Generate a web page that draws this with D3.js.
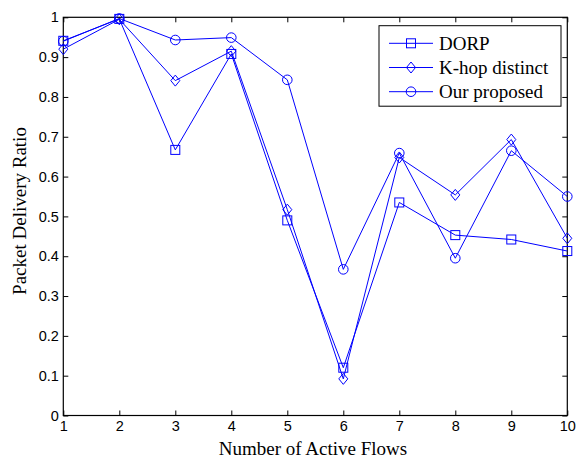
<!DOCTYPE html>
<html><head><meta charset="utf-8">
<script src="https://cdn.jsdelivr.net/npm/d3@7"></script>
<style>body{margin:0;background:#fff}svg{display:block}</style>
</head><body>
<svg id="c" width="576" height="459"></svg>
<script>
const flows = [1,2,3,4,5,6,7,8,9,10];
const dorp = [0.941,0.996,0.667,0.908,0.490,0.120,0.535,0.453,0.442,0.413];
const khop = [0.920,0.995,0.841,0.915,0.517,0.092,0.648,0.554,0.693,0.445];
const ours = [0.940,0.997,0.943,0.949,0.843,0.367,0.659,0.395,0.665,0.550];
const seriesNames = ["DORP","K-hop distinct","Our proposed"];
const markers = ["square","diamond","circle"];
const yTicks = [0,0.1,0.2,0.3,0.4,0.5,0.6,0.7,0.8,0.9,1];
const xLabel = "Number of Active Flows";
const yLabel = "Packet Delivery Ratio";

const svg = d3.select("#c");
const L=63.3, R=567.3, T=17.3, B=415.5;
const x = d3.scaleLinear().domain([1,10]).range([L,R]);
const y = d3.scaleLinear().domain([0,1]).range([B,T]);
const col = "#0000ff";
const tickFont = "'Liberation Sans', Arial, sans-serif";
const serif = "'Liberation Serif', 'Times New Roman', serif";

// axes
const gx = svg.append("g").attr("transform",`translate(0,${B})`)
  .call(d3.axisBottom(x).tickValues(flows).tickSize(-5).tickPadding(5).tickFormat(d3.format("d")));
const gxt = svg.append("g").attr("transform",`translate(0,${T})`)
  .call(d3.axisTop(x).tickValues(flows).tickSize(-5).tickFormat(""));
const gy = svg.append("g").attr("transform",`translate(${L},0)`)
  .call(d3.axisLeft(y).tickValues(yTicks).tickSize(-5).tickPadding(4.5).tickFormat(d=>d===0?"0":d===1?"1":d3.format(".1f")(d)));
const gyr = svg.append("g").attr("transform",`translate(${R},0)`)
  .call(d3.axisRight(y).tickValues(yTicks).tickSize(-5).tickFormat(""));
[gx,gxt,gy,gyr].forEach(g=>{
  g.select(".domain").remove();
  g.selectAll("line").attr("stroke","#000").attr("stroke-width",1);
  g.selectAll("text").attr("font-family",tickFont).attr("font-size",14.5).attr("fill","#000");
});
gx.selectAll("text").attr("dy","0.71em");
svg.append("rect").attr("x",L).attr("y",T).attr("width",R-L).attr("height",B-T)
  .attr("fill","none").attr("stroke","#000").attr("stroke-width",1.2);

// labels
svg.append("text").attr("x",313).attr("y",454.5).attr("text-anchor","middle")
  .attr("font-family",serif).attr("font-size",19).text(xLabel);
svg.append("text").attr("transform",`translate(26,211) rotate(-90)`).attr("text-anchor","middle")
  .attr("font-family",serif).attr("font-size",19).text(yLabel);

function marker(g, type, cx, cy){
  if(type==="square") g.append("rect").attr("x",cx-4.5).attr("y",cy-4.5).attr("width",9).attr("height",9);
  else if(type==="circle") g.append("circle").attr("cx",cx).attr("cy",cy).attr("r",4.8);
  else g.append("path").attr("d",`M${cx},${cy-5.5}L${cx+4.5},${cy}L${cx},${cy+5.5}L${cx-4.5},${cy}Z`);
}

const data = [dorp,khop,ours];
const line = d3.line().x((d,i)=>x(flows[i])).y(d=>y(d));
data.forEach((s,k)=>{
  const g = svg.append("g").attr("fill","none").attr("stroke",col).attr("stroke-width",1);
  g.append("path").attr("d",line(s));
  s.forEach((v,i)=>marker(g,markers[k],x(flows[i]),y(v)));
});

// legend
const lg = svg.append("g");
lg.append("rect").attr("x",379).attr("y",25.7).attr("width",182).attr("height",80.5)
  .attr("fill","#fff").attr("stroke","#000").attr("stroke-width",1);
const ly = [43.3,67.5,91.7];
seriesNames.forEach((n,k)=>{
  const g = lg.append("g").attr("fill","none").attr("stroke",col).attr("stroke-width",1);
  g.append("line").attr("x1",389).attr("x2",433).attr("y1",ly[k]).attr("y2",ly[k]);
  marker(g,markers[k],411,ly[k]);
  lg.append("text").attr("x",439).attr("y",ly[k]).attr("dy","0.35em")
    .attr("font-family",serif).attr("font-size",19).attr("fill","#000").text(n);
});
</script>
</body></html>
